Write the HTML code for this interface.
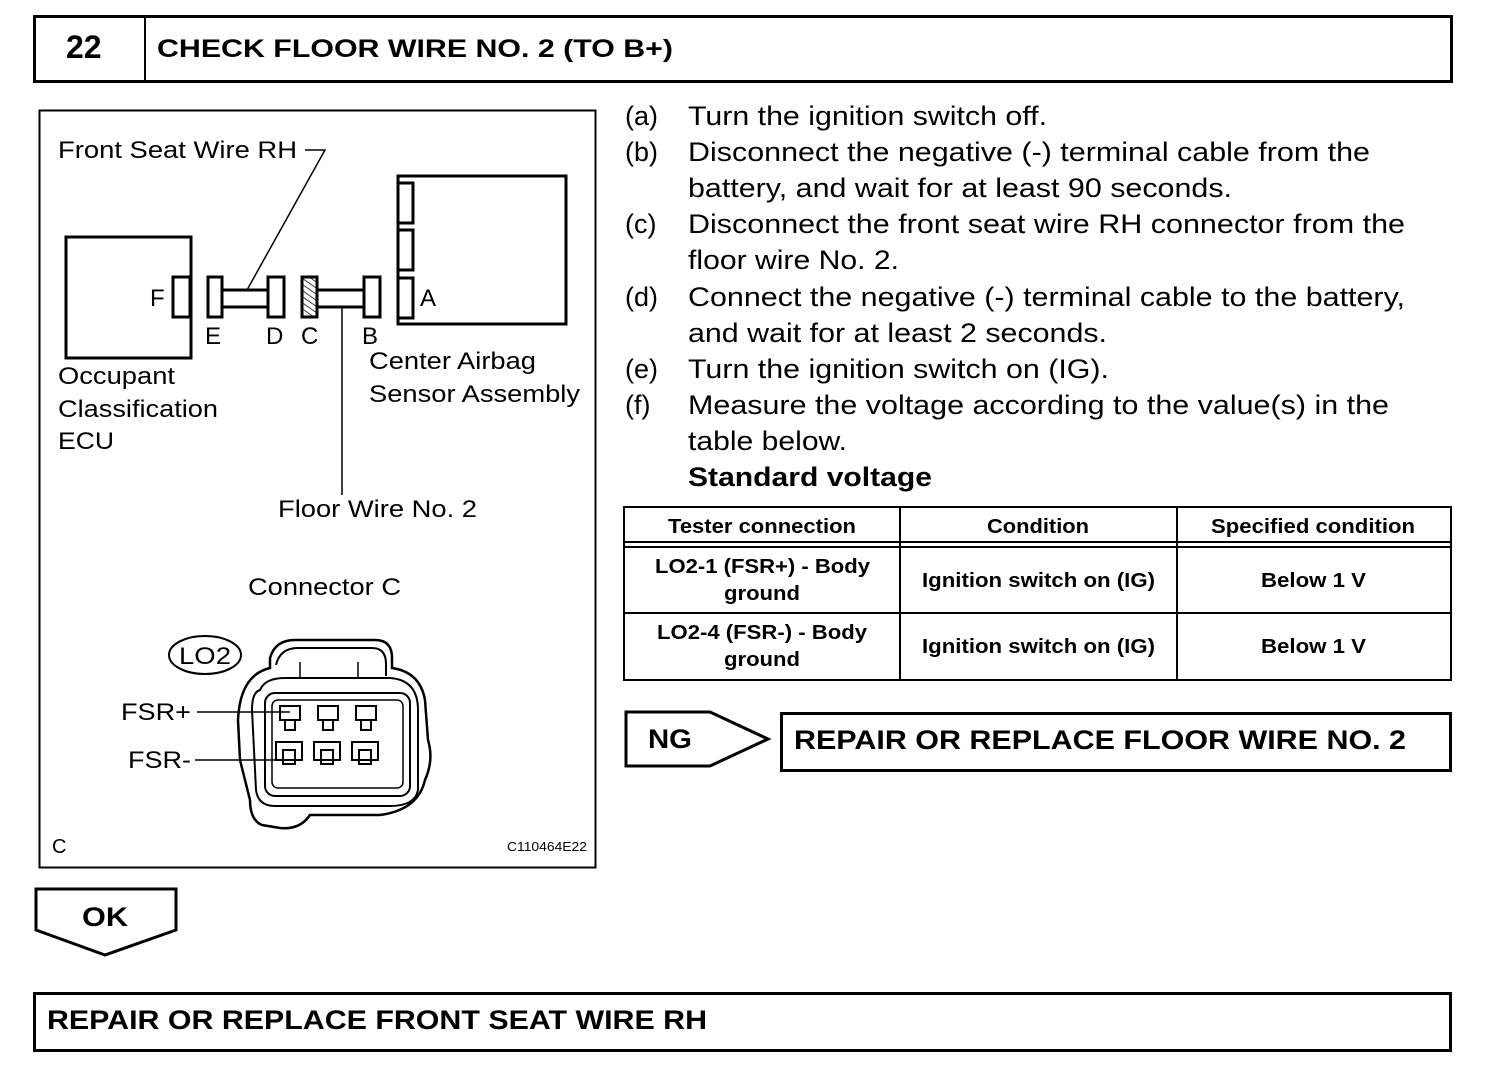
<!DOCTYPE html>
<html><head><style>body{margin:0;background:#fff}svg{display:block}text{font-family:"Liberation Sans",Arial,sans-serif;fill:#000}</style></head><body>
<svg width="1504" height="1074" viewBox="0 0 1504 1074" xmlns="http://www.w3.org/2000/svg">
<defs><pattern id="h" width="5" height="5" patternUnits="userSpaceOnUse" patternTransform="rotate(-55)"><line x1="0" y1="0" x2="0" y2="5" stroke="#000" stroke-width="1.5"/></pattern></defs>
<rect x="34.5" y="16.5" width="1417" height="65" fill="none" stroke="#000" stroke-width="3"/>
<line x1="145" y1="16" x2="145" y2="82" stroke="#000" stroke-width="2"/>
<text x="66" y="58" font-size="32" font-weight="bold">22</text>
<text x="157" y="57" font-size="25" font-weight="bold" textLength="516" lengthAdjust="spacingAndGlyphs">CHECK FLOOR WIRE NO. 2 (TO B+)</text>
<rect x="39.5" y="110.5" width="556" height="757" fill="none" stroke="#000" stroke-width="2"/>
<g font-size="24" lengthAdjust="spacingAndGlyphs">
<text x="58" y="158" textLength="239" lengthAdjust="spacingAndGlyphs">Front Seat Wire RH</text>
<text x="58" y="384" textLength="117" lengthAdjust="spacingAndGlyphs">Occupant</text><text x="58" y="417" textLength="160" lengthAdjust="spacingAndGlyphs">Classification</text><text x="58" y="449" textLength="56" lengthAdjust="spacingAndGlyphs">ECU</text>
<text x="369" y="369" textLength="167" lengthAdjust="spacingAndGlyphs">Center Airbag</text><text x="369" y="402" textLength="211" lengthAdjust="spacingAndGlyphs">Sensor Assembly</text>
<text x="278" y="517" textLength="199" lengthAdjust="spacingAndGlyphs">Floor Wire No. 2</text>
<text x="248" y="595" textLength="153" lengthAdjust="spacingAndGlyphs">Connector C</text>
<text x="150" y="306">F</text><text x="420" y="306">A</text>
<text x="205" y="344">E</text><text x="266" y="344">D</text><text x="301" y="344">C</text><text x="362" y="344">B</text>
<text x="121" y="720" textLength="70" lengthAdjust="spacingAndGlyphs">FSR+</text><text x="128" y="768" textLength="63" lengthAdjust="spacingAndGlyphs">FSR-</text>
<text x="179" y="664" textLength="52" lengthAdjust="spacingAndGlyphs">LO2</text>
<text x="52" y="853" font-size="20">C</text>
<text x="507" y="851" font-size="13" textLength="80" lengthAdjust="spacingAndGlyphs">C110464E22</text>
</g>
<g fill="none" stroke="#000">
<rect x="66" y="237" width="125" height="121" stroke-width="3"/>
<rect x="173" y="277" width="17" height="40" fill="#fff" stroke-width="3"/>
<rect x="208" y="277" width="14" height="40" stroke-width="3"/>
<rect x="222" y="290" width="46" height="17" stroke-width="3"/>
<rect x="268" y="277" width="16" height="40" stroke-width="3"/>
<rect x="302" y="277" width="15" height="40" stroke-width="3" fill="url(#h)"/>
<rect x="317" y="290" width="47" height="17" stroke-width="3"/>
<rect x="364" y="277" width="16" height="40" stroke-width="3"/>
<rect x="398" y="176" width="168" height="148" stroke-width="3"/>
<rect x="398" y="183" width="15" height="40" stroke-width="3"/>
<rect x="398" y="230" width="15" height="40" stroke-width="3"/>
<rect x="398" y="278" width="15" height="40" stroke-width="3"/>
<polyline points="305,150 325,150 247,290" stroke-width="1.5"/>
<line x1="342" y1="307" x2="342" y2="495" stroke-width="1.5"/>
<ellipse cx="205" cy="655" rx="36" ry="19" stroke-width="2"/>
<path d="M270,658 Q275,640 295,640 L375,640 Q392,640 392,658 L392,668 Q420,672 425,700 L428,740 Q434,760 425,780 Q418,810 380,815 L310,815 Q300,830 280,828 L262,825 Q250,820 250,800 L240,760 L238,720 Q240,675 270,668 Z" stroke-width="2.5"/>
<path d="M276,665 Q280,648 298,648 L372,648 Q386,648 386,664 L386,676 M260,690 Q265,678 285,678 L390,678 Q418,680 418,710 L418,790 Q415,806 390,806 L275,806 Q258,806 256,790 L252,710 Q252,692 260,690 Z" stroke-width="2"/>
<rect x="265" y="693" width="145" height="103" rx="10" stroke-width="2"/>
<rect x="272" y="700" width="131" height="88" rx="6" stroke-width="1.5"/>
<line x1="300" y1="662" x2="300" y2="678" stroke-width="1.5"/><line x1="358" y1="662" x2="358" y2="678" stroke-width="1.5"/>
<g stroke-width="2">
<rect x="280" y="706" width="20" height="14"/><rect x="285" y="720" width="10" height="10"/>
<rect x="318" y="706" width="20" height="14"/><rect x="323" y="720" width="10" height="10"/>
<rect x="356" y="706" width="20" height="14"/><rect x="361" y="720" width="10" height="10"/>
<rect x="276" y="742" width="26" height="18"/><rect x="283" y="750" width="12" height="14"/>
<rect x="314" y="742" width="26" height="18"/><rect x="321" y="750" width="12" height="14"/>
<rect x="352" y="742" width="26" height="18"/><rect x="359" y="750" width="12" height="14"/>
</g>
<line x1="197" y1="712" x2="290" y2="712" stroke-width="1.5"/>
<line x1="195" y1="760" x2="290" y2="760" stroke-width="1.5"/>
</g>
<g font-size="27">
<text x="625" y="125">(a)</text><text x="688" y="125" textLength="359" lengthAdjust="spacingAndGlyphs">Turn the ignition switch off.</text>
<text x="625" y="161">(b)</text><text x="688" y="161" textLength="682" lengthAdjust="spacingAndGlyphs">Disconnect the negative (-) terminal cable from the</text>
<text x="688" y="197" textLength="544" lengthAdjust="spacingAndGlyphs">battery, and wait for at least 90 seconds.</text>
<text x="625" y="233">(c)</text><text x="688" y="233" textLength="717" lengthAdjust="spacingAndGlyphs">Disconnect the front seat wire RH connector from the</text>
<text x="688" y="269" textLength="211" lengthAdjust="spacingAndGlyphs">floor wire No. 2.</text>
<text x="625" y="306">(d)</text><text x="688" y="306" textLength="717" lengthAdjust="spacingAndGlyphs">Connect the negative (-) terminal cable to the battery,</text>
<text x="688" y="342" textLength="419" lengthAdjust="spacingAndGlyphs">and wait for at least 2 seconds.</text>
<text x="625" y="378">(e)</text><text x="688" y="378" textLength="421" lengthAdjust="spacingAndGlyphs">Turn the ignition switch on (IG).</text>
<text x="625" y="414">(f)</text><text x="688" y="414" textLength="701" lengthAdjust="spacingAndGlyphs">Measure the voltage according to the value(s) in the</text>
<text x="688" y="450" textLength="159" lengthAdjust="spacingAndGlyphs">table below.</text>
<text x="688" y="486" font-weight="bold" textLength="244" lengthAdjust="spacingAndGlyphs">Standard voltage</text>
</g>
<g fill="none" stroke="#000" stroke-width="2">
<rect x="624" y="507" width="827" height="173"/>
<line x1="624" y1="542" x2="1451" y2="542"/><line x1="624" y1="547" x2="1451" y2="547"/>
<line x1="624" y1="613" x2="1451" y2="613"/>
<line x1="900" y1="507" x2="900" y2="680"/><line x1="1177" y1="507" x2="1177" y2="680"/>
</g>
<g font-size="20" font-weight="bold">
<text x="668" y="533" textLength="188" lengthAdjust="spacingAndGlyphs">Tester connection</text><text x="987" y="533" textLength="102" lengthAdjust="spacingAndGlyphs">Condition</text><text x="1211" y="533" textLength="204" lengthAdjust="spacingAndGlyphs">Specified condition</text>
<text x="655" y="573" textLength="215" lengthAdjust="spacingAndGlyphs">LO2-1 (FSR+) - Body</text><text x="724" y="600" textLength="76" lengthAdjust="spacingAndGlyphs">ground</text>
<text x="922" y="587" textLength="233" lengthAdjust="spacingAndGlyphs">Ignition switch on (IG)</text><text x="1261" y="587" textLength="105" lengthAdjust="spacingAndGlyphs">Below 1 V</text>
<text x="657" y="639" textLength="210" lengthAdjust="spacingAndGlyphs">LO2-4 (FSR-) - Body</text><text x="724" y="666" textLength="76" lengthAdjust="spacingAndGlyphs">ground</text>
<text x="922" y="653" textLength="233" lengthAdjust="spacingAndGlyphs">Ignition switch on (IG)</text><text x="1261" y="653" textLength="105" lengthAdjust="spacingAndGlyphs">Below 1 V</text>
</g>
<polygon points="626,712 710,712 768,739 710,766 626,766" fill="none" stroke="#000" stroke-width="3"/>
<text x="648" y="748" font-size="27" font-weight="bold" textLength="44" lengthAdjust="spacingAndGlyphs">NG</text>
<rect x="781.5" y="713.5" width="669" height="57" fill="none" stroke="#000" stroke-width="3"/>
<text x="794" y="749" font-size="27" font-weight="bold" textLength="612" lengthAdjust="spacingAndGlyphs">REPAIR OR REPLACE FLOOR WIRE NO. 2</text>
<polygon points="36,889 176,889 176,930 105,955 36,930" fill="none" stroke="#000" stroke-width="3"/>
<text x="82" y="926" font-size="27" font-weight="bold" textLength="46" lengthAdjust="spacingAndGlyphs">OK</text>
<rect x="34.5" y="993.5" width="1416" height="57" fill="none" stroke="#000" stroke-width="3"/>
<text x="47" y="1029" font-size="27" font-weight="bold" textLength="660" lengthAdjust="spacingAndGlyphs">REPAIR OR REPLACE FRONT SEAT WIRE RH</text>
</svg>
</body></html>
